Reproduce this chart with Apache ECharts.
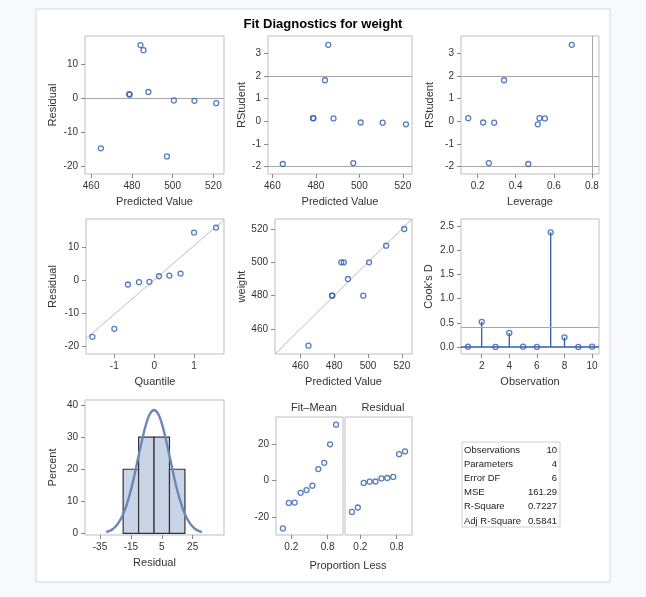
<!DOCTYPE html>
<html>
<head>
<meta charset="utf-8"/>
<title>Fit Diagnostics for weight</title>
<script src="https://cdn.jsdelivr.net/npm/echarts@6/dist/echarts.min.js"></script>
<style>
    html, body { margin: 0; padding: 0; background: #f7f9fd; }
    #main { width: 646px; height: 597px; }
</style>
</head>
<body>
<div id="main"></div>
<script type="text/javascript">
// one entry per observation (obs 1..10)
var observation = [1, 2, 3, 4, 5, 6, 7, 8, 9, 10];
var predicted = [478.7, 464.8, 478.9, 484.2, 488.1, 500.6, 485.7, 497.2, 510.7, 521.4];
var residual  = [1.3, -14.8, 1.1, 15.8, 1.9, -0.6, 14.3, -17.2, -0.7, -1.4];
var weight    = [480, 450, 480, 500, 490, 500, 500, 480, 510, 520];
var rstudent  = [0.14, -1.88, 0.14, 1.81, 0.13, -0.05, 3.37, -1.84, -0.06, -0.13];
var leverage  = [0.525, 0.466, 0.151, 0.339, 0.553, 0.229, 0.694, 0.259, 0.287, 0.516];
var cooksD    = [0.005, 0.52, 0.002, 0.29, 0.007, 0.001, 2.37, 0.20, 0.001, 0.006];

// sorted values for the Q-Q and spread plots
var quantile      = [-1.55, -1.00, -0.66, -0.38, -0.12, 0.12, 0.38, 0.66, 1.00, 1.55];
var residSorted   = [-17.2, -14.8, -1.4, -0.7, -0.6, 1.1, 1.3, 1.9, 14.3, 15.8];
var propLess      = [0.061, 0.159, 0.256, 0.354, 0.451, 0.549, 0.646, 0.744, 0.841, 0.939];
var fitMean       = [-26.2, -12.3, -12.1, -6.8, -5.3, -2.9, 6.2, 9.6, 19.7, 30.4];

// residual histogram + normal curve (percent)
var binLo   = [-20, -10, 0, 10];
var binHi   = [-10, 0, 10, 20];
var binPct  = [20, 30, 30, 20];
var curveX  = [-31, -27.5, -25, -22.5, -20, -17.5, -15, -12.5, -10, -7.5, -5, -2.5, 0, 2.5, 5, 7.5, 10, 12.5, 15, 17.5, 20, 22.5, 25, 27.5, 31];
var curveY  = [0.4, 1.1, 2.1, 3.7, 6.0, 9.3, 13.5, 18.6, 24.2, 29.6, 34.3, 37.4, 38.5, 37.4, 34.3, 29.6, 24.2, 18.6, 13.5, 9.3, 6.0, 3.7, 2.1, 1.1, 0.4];

// reference values
var qqSlope = 10.37;
var rstudentLimit = 2;
var leverageLimit = 0.8;
var cooksLimit = 0.4;

// tick labels
var ticksPred  = [460, 480, 500, 520];
var ticksResid = [-20, -10, 0, 10];
var ticksRstud = [-2, -1, 0, 1, 2, 3];
var ticksLev   = [0.2, 0.4, 0.6, 0.8];
var ticksQuant = [-1, 0, 1];
var ticksObs   = [2, 4, 6, 8, 10];
var ticksCook  = [0, 0.5, 1, 1.5, 2, 2.5];
var ticksHistX = [-35, -15, 5, 25];
var ticksPct   = [0, 10, 20, 30, 40];
var ticksProp  = [0.2, 0.8];
var ticksSpread = [-20, 0, 20];

var statLabels = ['Observations', 'Parameters', 'Error DF', 'MSE', 'R-Square', 'Adj R-Square'];
var statValues = ['10', '4', '6', '161.29', '0.7227', '0.5841'];

var FONT = '"Liberation Sans", Arial, sans-serif';
var BLUE = '#2f5db4';
var REF = '#a6a6a6';

function zip(a, b) {
    return a.map(function (v, i) { return [v, b[i]]; });
}

function xAx(gi, min, max, ticks, name, fmt) {
    return {
        type: 'value', gridIndex: gi, min: min, max: max,
        name: name, nameLocation: 'middle', nameGap: 22,
        nameTextStyle: { color: '#333', fontSize: 11, fontFamily: FONT },
        axisLine: { show: false, onZero: false },
        axisTick: { show: true, length: 4, lineStyle: { color: '#888' }, customValues: ticks },
        axisLabel: { color: '#333', fontSize: 10, margin: 7, fontFamily: FONT, customValues: ticks, formatter: fmt },
        splitLine: { show: false }
    };
}

function yAx(gi, min, max, ticks, name, gap, fmt) {
    return {
        type: 'value', gridIndex: gi, min: min, max: max,
        name: name, nameLocation: 'middle', nameGap: gap,
        nameTextStyle: { color: '#333', fontSize: 11, fontFamily: FONT },
        axisLine: { show: false, onZero: false },
        axisTick: { show: ticks != null, length: 4, lineStyle: { color: '#888' }, customValues: ticks || [] },
        axisLabel: { show: ticks != null, color: '#333', fontSize: 10, margin: 7, fontFamily: FONT, customValues: ticks || [], formatter: fmt },
        splitLine: { show: false }
    };
}

function grid(l, t, w, h) {
    return { left: l, top: t, width: w, height: h, show: true, borderColor: '#bdbdbd', borderWidth: 1, outerBoundsMode: 'none' };
}

function refLines(list, color, width) {
    return {
        silent: true, symbol: 'none', animation: false,
        label: { show: false },
        lineStyle: { color: color || REF, width: width || 1, type: 'solid' },
        emphasis: { disabled: true },
        data: list
    };
}

function dots(gi, data, extra) {
    var s = {
        type: 'scatter', xAxisIndex: gi, yAxisIndex: gi, data: data,
        symbol: 'circle', symbolSize: 5,
        itemStyle: { color: 'rgba(255,255,255,0)', borderColor: BLUE, borderWidth: 1.3 },
        z: 5
    };
    if (extra) s.markLine = extra;
    return s;
}

var fmt1 = function (v) { return v.toFixed(1); };

var chartDom = document.getElementById('main');
var myChart = echarts.init(chartDom);

var qqMin = -1.71, qqMax = 1.75;
var idMin = 445, idMax = 526;

// summary table drawn as text
var tableGraphic = [];
statLabels.forEach(function (lab, i) {
    var y = 450 + i * 14.2;
    tableGraphic.push({ type: 'text', x: 464, y: y,
        style: { text: lab, fill: '#222', font: '9.5px ' + FONT, textAlign: 'left', textVerticalAlign: 'middle' } });
    tableGraphic.push({ type: 'text', x: 557, y: y,
        style: { text: statValues[i], fill: '#222', font: '9.5px ' + FONT, textAlign: 'right', textVerticalAlign: 'middle' } });
});

var option = {
    animation: false,
    backgroundColor: 'transparent',
    title: [
        { text: 'Fit Diagnostics for weight', left: 'center', top: 13,
          textStyle: { fontSize: 13, fontWeight: 'bold', color: '#000', fontFamily: FONT } },
        { text: 'Fit\u2013Mean', left: 309, top: 397, textAlign: 'center',
          textStyle: { fontSize: 11, fontWeight: 'normal', color: '#333', fontFamily: FONT } },
        { text: 'Residual', left: 378, top: 397, textAlign: 'center',
          textStyle: { fontSize: 11, fontWeight: 'normal', color: '#333', fontFamily: FONT } },
        { text: 'Proportion Less', left: 343, top: 555, textAlign: 'center',
          textStyle: { fontSize: 11, fontWeight: 'normal', color: '#333', fontFamily: FONT } }
    ],
    graphic: [
        { type: 'rect', z: -10, shape: { x: 36, y: 9, width: 574, height: 573 },
          style: { fill: '#fff', stroke: '#d4d6da', lineWidth: 1 } },
        { type: 'rect', shape: { x: 462, y: 442, width: 98, height: 85 },
          style: { fill: '#fff', stroke: '#cfcfcf', lineWidth: 1 } }
    ].concat(tableGraphic),
    grid: [
        grid(85, 36, 139, 138),
        grid(268, 36, 144, 138),
        grid(461, 36, 138, 138),
        grid(86, 219, 138, 135),
        grid(275, 219, 137, 135),
        grid(461, 219, 138, 135),
        grid(85, 400, 139, 135),
        grid(276, 417, 67, 118),
        grid(345, 417, 67, 118)
    ],
    xAxis: [
        xAx(0, 457, 525.2, ticksPred, 'Predicted Value'),
        xAx(1, 458, 524.2, ticksPred, 'Predicted Value'),
        xAx(2, 0.113, 0.837, ticksLev, 'Leverage', fmt1),
        xAx(3, qqMin, qqMax, ticksQuant, 'Quantile'),
        xAx(4, idMin, idMax, ticksPred, 'Predicted Value'),
        xAx(5, 0.5, 10.5, ticksObs, 'Observation'),
        xAx(6, -44.7, 45.3, ticksHistX, 'Residual'),
        xAx(7, -0.053, 1.054, ticksProp, '', fmt1),
        xAx(8, -0.053, 1.054, ticksProp, '', fmt1)
    ],
    yAxis: [
        yAx(0, -22.4, 18.5, ticksResid, 'Residual', 27),
        yAx(1, -2.32, 3.76, ticksRstud, 'RStudent', 21),
        yAx(2, -2.32, 3.76, ticksRstud, 'RStudent', 26),
        yAx(3, -22.4, 18.4, ticksResid, 'Residual', 28),
        yAx(4, idMin, idMax, ticksPred, 'weight', 27),
        yAx(5, -0.145, 2.645, ticksCook, "Cook's D", 27, fmt1),
        yAx(6, -0.5, 41.6, ticksPct, 'Percent', 27),
        yAx(7, -29.8, 34.6, ticksSpread, '', 20),
        yAx(8, -29.8, 34.6, null, '', 20)
    ],
    series: [
        dots(0, zip(predicted, residual), refLines([{ yAxis: 0 }])),
        dots(1, zip(predicted, rstudent), refLines([{ yAxis: rstudentLimit }, { yAxis: -rstudentLimit }])),
        dots(2, zip(leverage, rstudent), refLines([{ yAxis: rstudentLimit }, { yAxis: -rstudentLimit }, { xAxis: leverageLimit }])),
        {
            type: 'line', xAxisIndex: 3, yAxisIndex: 3, silent: true, showSymbol: false,
            data: [[qqMin, qqSlope * qqMin], [qqMax, qqSlope * qqMax]],
            lineStyle: { color: '#bdbdbd', width: 1 }, z: 2
        },
        dots(3, zip(quantile, residSorted)),
        {
            type: 'line', xAxisIndex: 4, yAxisIndex: 4, silent: true, showSymbol: false,
            data: [[idMin, idMin], [idMax, idMax]],
            lineStyle: { color: '#bdbdbd', width: 1 }, z: 2
        },
        dots(4, zip(predicted, weight)),
        {
            type: 'custom', xAxisIndex: 5, yAxisIndex: 5, silent: true,
            data: zip(observation, cooksD),
            renderItem: function (params, api) {
                var top = api.coord([api.value(0), api.value(1)]);
                var base = api.coord([api.value(0), 0]);
                return { type: 'line', shape: { x1: top[0], y1: top[1], x2: base[0], y2: base[1] },
                         style: { stroke: BLUE, lineWidth: 1.3 } };
            },
            markLine: refLines([{ yAxis: cooksLimit }]),
            z: 3
        },
        {
            type: 'line', xAxisIndex: 5, yAxisIndex: 5, silent: true, showSymbol: false,
            data: [[0.5, 0], [10.5, 0]],
            lineStyle: { color: BLUE, width: 1.5 }, z: 3
        },
        dots(5, zip(observation, cooksD)),
        {
            type: 'custom', xAxisIndex: 6, yAxisIndex: 6, silent: true,
            data: binLo.map(function (lo, i) { return [lo, binHi[i], binPct[i]]; }),
            renderItem: function (params, api) {
                var p1 = api.coord([api.value(0), api.value(2)]);
                var p2 = api.coord([api.value(1), 0]);
                return { type: 'rect', shape: { x: p1[0], y: p1[1], width: p2[0] - p1[0], height: p2[1] - p1[1] },
                         style: { fill: '#c9d5e7', stroke: '#333', lineWidth: 1.2 } };
            },
            z: 2
        },
        {
            type: 'line', xAxisIndex: 6, yAxisIndex: 6, silent: true, showSymbol: false, smooth: true,
            data: zip(curveX, curveY),
            lineStyle: { color: '#6a87b8', width: 2.4 }, z: 4
        },
        dots(7, zip(propLess, fitMean)),
        dots(8, zip(propLess, residSorted))
    ]
};

myChart.setOption(option);
</script>
</body>
</html>
